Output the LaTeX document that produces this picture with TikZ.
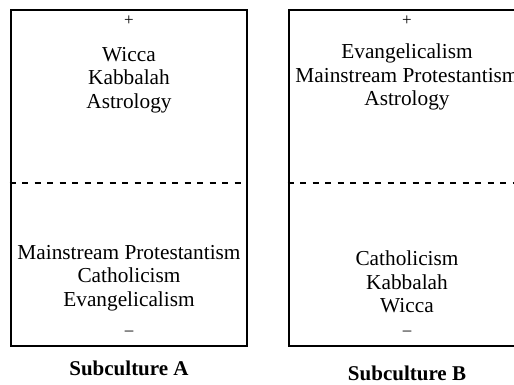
\documentclass[tikz,border=0pt]{standalone}
\usepackage{fontspec}
\setmainfont{Liberation Serif}
\begin{document}
\begin{tikzpicture}
  [x=1pt,y=-1pt,
   every node/.style={align=center,inner sep=0pt,font=\fontsize{21.3}{23.5}\selectfont},
   subbox/.style={draw,line width=2.8pt,minimum width=236pt,minimum height=336pt},
   sign/.style={font=\fontsize{17}{17}\selectfont},
   caption/.style={font=\fontsize{21}{21}\selectfont\bfseries}]
  \useasboundingbox (0,0) rectangle (514,384);
  \node[subbox] (boxa) at (129,178) {};
  \node[subbox] (boxb) at (407,178) {};
  \node[sign] (pa) at (129,21) {+};
  \node[sign] (pb) at (407,21) {+};
  \node (ua) at (129,80) {Wicca\\Kabbalah\\Astrology};
  \node (ub) at (407,77) {Evangelicalism\\Mainstream Protestantism\\Astrology};
  \node (la) at (129,278) {Mainstream Protestantism\\Catholicism\\Evangelicalism};
  \node (lb) at (407,282) {Catholicism\\Kabbalah\\Wicca};
  \node[sign] (ma) at (129,333) {--};
  \node[sign] (mb) at (407,333) {--};
  \node[caption] (ca) at (129,368) {Subculture A};
  \node[caption] (cb) at (407,373) {Subculture B};
  \foreach \b in {boxa,boxb}
    \draw[line width=2.4pt,dash pattern=on 6pt off 6.5pt]
      ([yshift=-5pt]\b.west) -- ([yshift=-5pt]\b.east);
\end{tikzpicture}
\end{document}
